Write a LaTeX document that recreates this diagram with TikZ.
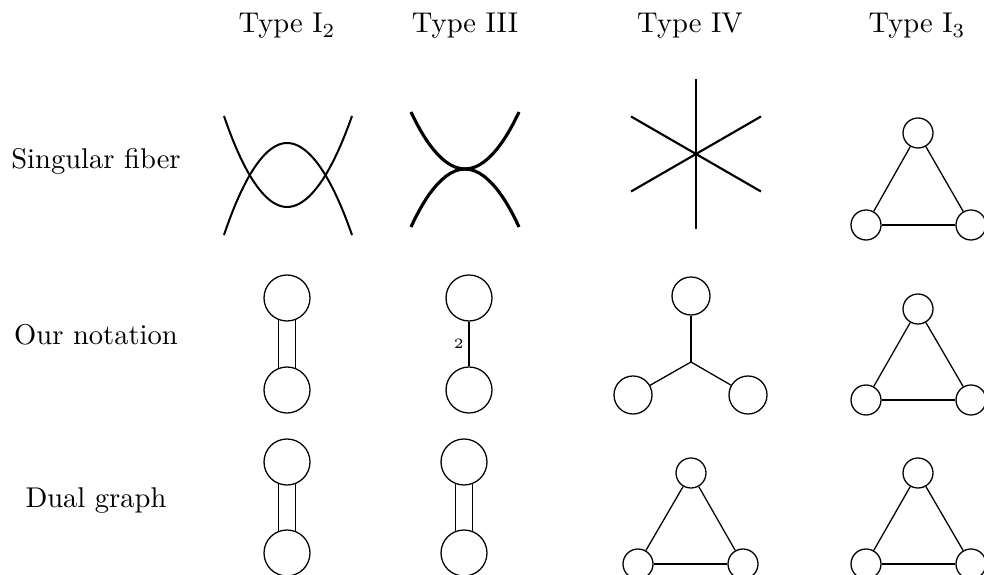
\documentclass[tikz,border=0pt]{standalone}
\begin{document}
\begin{tikzpicture}[x=0.35pt,y=-0.35pt,
  vtx/.style={circle,draw,inner sep=0pt,line width=0.45pt},
  bigv/.style={vtx,minimum size=16.1pt},
  midv/.style={vtx,minimum size=13.3pt},
  smlv/.style={vtx,minimum size=10.5pt},
  edge/.style={line width=0.45pt},
  fibtwo/.style={line width=0.7pt},
  fibthree/.style={line width=1.1pt},
  fibfour/.style={line width=0.75pt},
  lbl/.style={anchor=base,inner sep=0pt}]
\useasboundingbox (0,0) rectangle (984,575);

% headers
\node[lbl] (h1) at (287,33) {Type I$_2$};
\node[lbl] (h2) at (465,33) {Type III};
\node[lbl] (h3) at (690,33) {Type IV};
\node[lbl] (h4) at (917,33) {Type I$_3$};

% row labels
\node[lbl] (r1) at (96,169) {Singular fiber};
\node[lbl] (r2) at (96,345) {Our notation};
\node[lbl] (r3) at (96,508) {Dual graph};

% ---- row 1: singular fibers
\draw[fibtwo] (224,116) parabola bend (287,207) (352,116);
\draw[fibtwo] (224,235) parabola bend (287,143) (352,235);

\draw[fibthree] (411,112) parabola bend (465,169) (519,112);
\draw[fibthree] (411,227) parabola bend (465,169) (519,227);

\coordinate (c4) at (696,154);
\draw[fibfour] (c4) ++(90:75) -- ++(270:150);
\draw[fibfour] (c4) ++(30:75) -- ++(210:150);
\draw[fibfour] (c4) ++(150:75) -- ++(330:150);

\node[smlv] (f3t) at (918,133) {};
\node[smlv] (f3l) at (866,225) {};
\node[smlv] (f3r) at (971,225) {};
\draw[edge] (f3t) -- (f3l);
\draw[edge] (f3t) -- (f3r);
\draw[edge] (f3l) -- (f3r);

% ---- row 2: our notation
\node[bigv] (n1t) at (287,298) {};
\node[bigv] (n1b) at (287,390) {};
\draw[edge] (n1t.249) -- (n1b.111);
\draw[edge] (n1t.291) -- (n1b.69);

\node[bigv] (n2t) at (469,298) {};
\node[bigv] (n2b) at (469,390) {};
\draw[edge] (n2t) -- node[left=1.7pt,inner sep=0pt,font=\tiny] {2} (n2b);

\coordinate (j) at (691,362);
\node[midv] (n3t) at (691,296) {};
\node[midv] (n3l) at (633,395) {};
\node[midv] (n3r) at (748,395) {};
\draw[edge] (j) -- (n3t);
\draw[edge] (j) -- (n3l);
\draw[edge] (j) -- (n3r);

\node[smlv] (n4t) at (918,309) {};
\node[smlv] (n4l) at (866,400) {};
\node[smlv] (n4r) at (971,400) {};
\draw[edge] (n4t) -- (n4l);
\draw[edge] (n4t) -- (n4r);
\draw[edge] (n4l) -- (n4r);

% ---- row 3: dual graphs
\node[bigv] (d1t) at (287,462) {};
\node[bigv] (d1b) at (287,553) {};
\draw[edge] (d1t.249) -- (d1b.111);
\draw[edge] (d1t.291) -- (d1b.69);

\node[bigv] (d2t) at (464,462) {};
\node[bigv] (d2b) at (464,553) {};
\draw[edge] (d2t.249) -- (d2b.111);
\draw[edge] (d2t.291) -- (d2b.69);

\node[smlv] (d3t) at (691,473) {};
\node[smlv] (d3l) at (638,564) {};
\node[smlv] (d3r) at (743,564) {};
\draw[edge] (d3t) -- (d3l);
\draw[edge] (d3t) -- (d3r);
\draw[edge] (d3l) -- (d3r);

\node[smlv] (d4t) at (918,473) {};
\node[smlv] (d4l) at (866,564) {};
\node[smlv] (d4r) at (971,564) {};
\draw[edge] (d4t) -- (d4l);
\draw[edge] (d4t) -- (d4r);
\draw[edge] (d4l) -- (d4r);
\end{tikzpicture}
\end{document}
